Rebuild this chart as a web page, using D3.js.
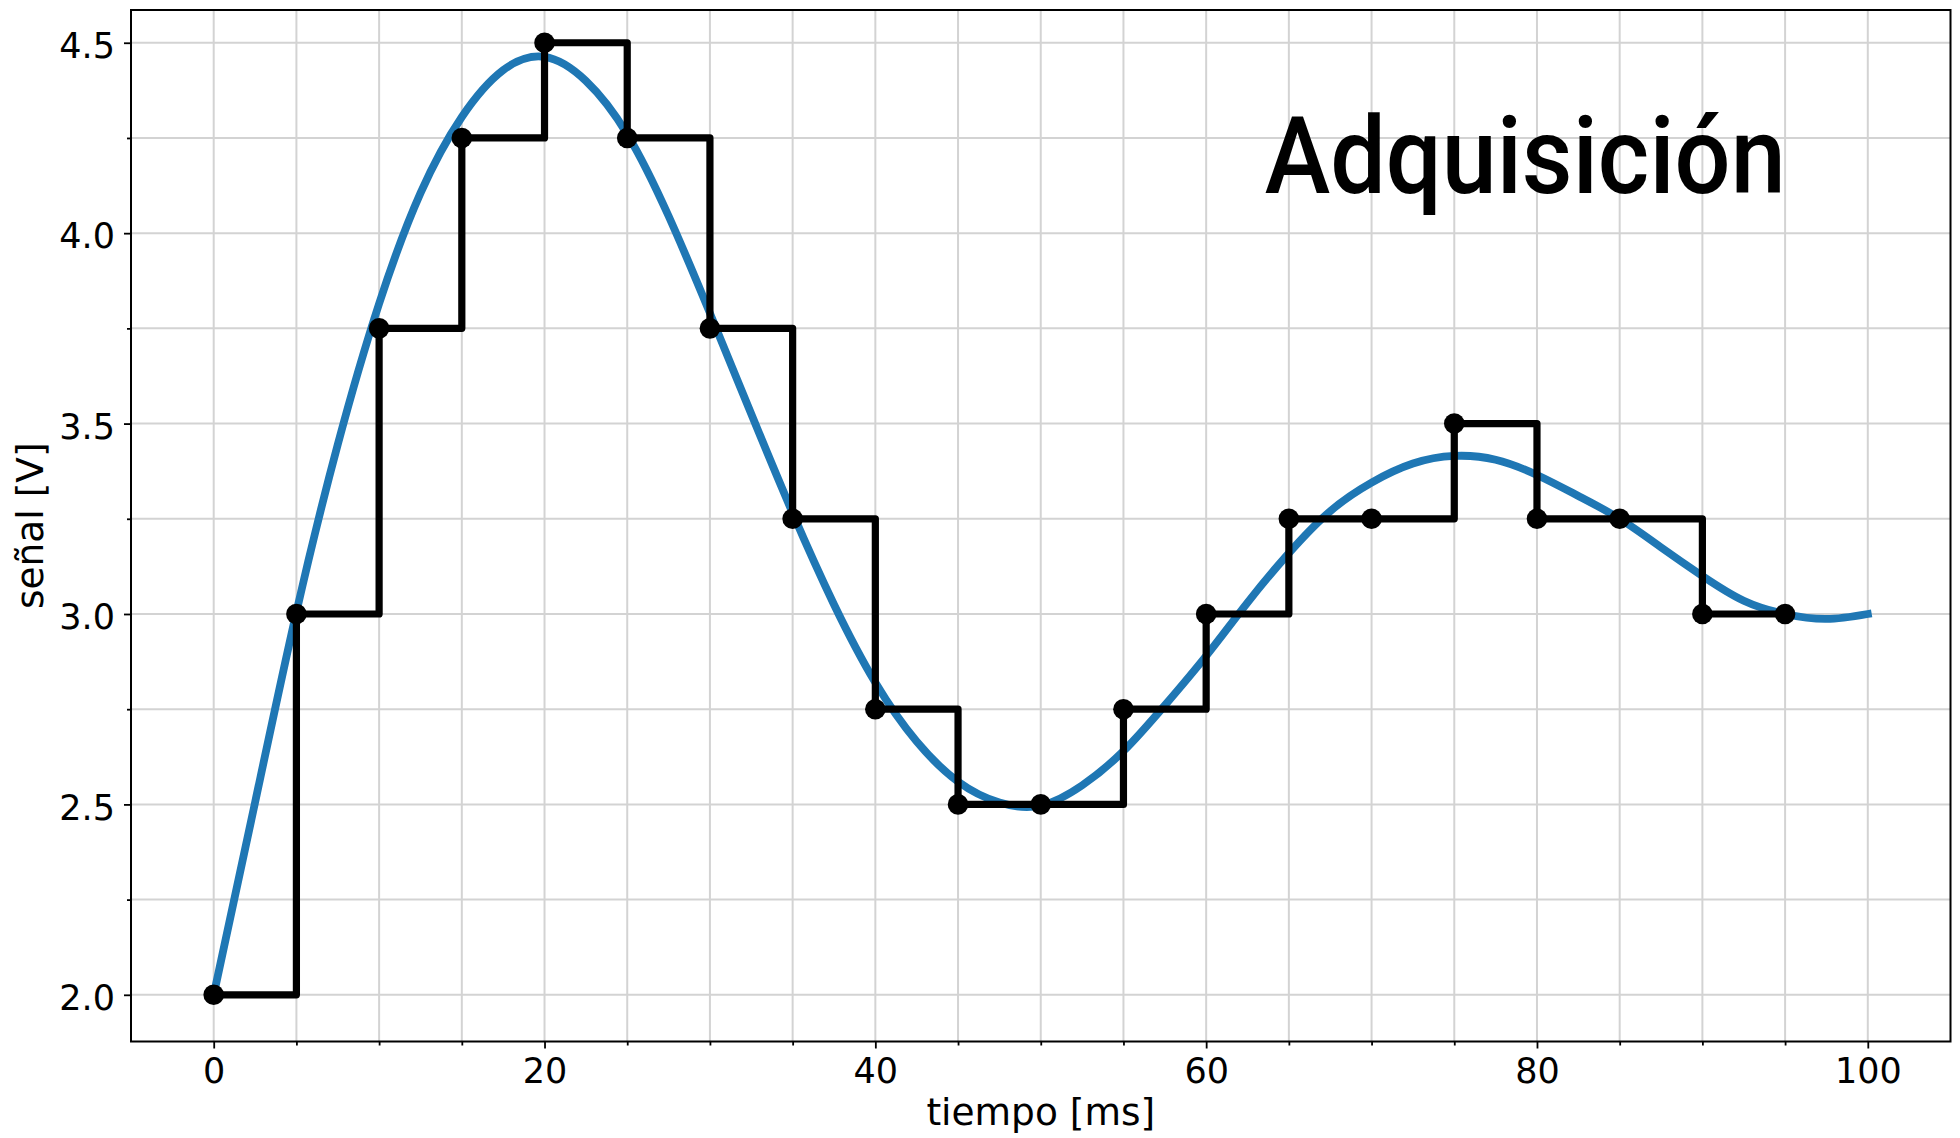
<!DOCTYPE html>
<html><head><meta charset="utf-8">
<script src="https://cdn.jsdelivr.net/npm/d3@7/dist/d3.min.js"></script>
<style>body{margin:0;background:#fff} svg{display:block}</style>
</head><body>
<svg id="chart" width="1960" height="1138"></svg>
<script>
// ---- data ----
const sampleTimes  = [0,5,10,15,20,25,30,35,40,45,50,55,60,65,70,75,80,85,90,95];
const sampleValues = [2.0,3.0,3.75,4.25,4.5,4.25,3.75,3.25,2.75,2.5,2.5,2.75,3.0,3.25,3.25,3.5,3.25,3.25,3.0,3.0];
const signalTimes  = [0,2.5,5,7.5,10,12.5,15,17.5,20,22.5,25,27.5,30,32.5,35,37.5,40,42.5,45,47.5,50,52.5,55,57.5,60,62.5,65,67.5,70,72.5,75,77.5,80,82.5,85,87.5,90,92.5,95,97.5,100];
const signalValues = [2.0,2.505,3.005,3.445,3.815,4.105,4.305,4.428,4.463,4.40,4.26,4.045,3.79,3.525,3.265,3.025,2.82,2.665,2.56,2.505,2.497,2.55,2.64,2.76,2.89,3.03,3.16,3.27,3.345,3.395,3.415,3.405,3.365,3.31,3.25,3.175,3.10,3.035,3.0,2.987,3.0];
const xTickValues = [0,20,40,60,80,100];
const xTickLabels = ["0","20","40","60","80","100"];
const xMinorValues = [5,10,15,25,30,35,45,50,55,65,70,75,85,90,95];
const yTickValues = [2.0,2.5,3.0,3.5,4.0,4.5];
const yTickLabels = ["2.0","2.5","3.0","3.5","4.0","4.5"];
const yMinorValues = [2.25,2.75,3.25,3.75,4.25];
const titleText = "Adquisición";
const xLabel = "tiempo [ms]";
const yLabel = "señal [V]";

// ---- layout ----
const L = 131, R = 1950.5, T = 10, B = 1041.5;
const svg = d3.select("#chart");
const x = d3.scaleLinear().domain([-5,105]).range([L,R]);
const y = d3.scaleLinear().domain([1.8774,4.586]).range([B,T]);
const font = "DejaVu Sans, sans-serif";
const gridColor = "#d3d3d3";

// grid
const gx = svg.append("g");
gx.selectAll("line.gx").data(xTickValues.concat(xMinorValues)).join("line")
  .attr("x1", d=>x(d)).attr("x2", d=>x(d)).attr("y1", T).attr("y2", B)
  .attr("stroke", gridColor).attr("stroke-width", 2);
gx.selectAll("line.gy").data(yTickValues.concat(yMinorValues)).join("line")
  .attr("y1", d=>y(d)).attr("y2", d=>y(d)).attr("x1", L).attr("x2", R)
  .attr("stroke", gridColor).attr("stroke-width", 2);

// axes
const xAxis = svg.append("g").attr("transform", `translate(0,${B})`)
  .call(d3.axisBottom(x).tickValues(xTickValues).tickFormat((d,i)=>xTickLabels[i]).tickSize(7));
const xMinor = svg.append("g").attr("transform", `translate(0,${B})`)
  .call(d3.axisBottom(x).tickValues(xMinorValues).tickFormat("").tickSize(4));
const yAxis = svg.append("g").attr("transform", `translate(${L},0)`)
  .call(d3.axisLeft(y).tickValues(yTickValues).tickFormat((d,i)=>yTickLabels[i]).tickSize(7));
const yMinor = svg.append("g").attr("transform", `translate(${L},0)`)
  .call(d3.axisLeft(y).tickValues(yMinorValues).tickFormat("").tickSize(4));
[xAxis,xMinor,yAxis,yMinor].forEach(g=>{
  g.select(".domain").remove();
  g.selectAll(".tick line").attr("stroke","#000").attr("stroke-width",1.8);
});
xAxis.selectAll(".tick text").attr("y", 1083 - B).attr("dy", 0)
  .attr("font-family", font).attr("font-size", 35).attr("fill","#000");
yAxis.selectAll(".tick text").attr("x", -16).attr("dy", 14.6)
  .attr("font-family", font).attr("font-size", 35).attr("fill","#000");

// signal curve
const pts = signalTimes.map((t,i)=>({t, v: signalValues[i]}));
svg.append("path").datum(pts)
  .attr("d", d3.line().x(d=>x(d.t)).y(d=>y(d.v)).curve(d3.curveNatural))
  .attr("fill","none").attr("stroke","#1f77b4").attr("stroke-width",7.8)
  .attr("stroke-linecap","square").attr("stroke-linejoin","round");

// sampled step line
const spts = sampleTimes.map((t,i)=>({t, v: sampleValues[i]}));
svg.append("path").datum(spts)
  .attr("d", d3.line().x(d=>x(d.t)).y(d=>y(d.v)).curve(d3.curveStepAfter))
  .attr("fill","none").attr("stroke","#000").attr("stroke-width",7.2)
  .attr("stroke-linecap","square").attr("stroke-linejoin","round");
svg.append("g").selectAll("circle").data(spts).join("circle")
  .attr("cx", d=>x(d.t)).attr("cy", d=>y(d.v)).attr("r", 10.3).attr("fill","#000");

// frame
svg.append("rect").attr("x",L).attr("y",T).attr("width",R-L).attr("height",B-T)
  .attr("fill","none").attr("stroke","#000").attr("stroke-width",2);

// labels
svg.append("text").attr("x",(L+R)/2).attr("y",1125).attr("text-anchor","middle")
  .attr("font-family",font).attr("font-size",37.5).attr("fill","#000").text(xLabel);
svg.append("text").attr("transform",`translate(43,${(T+B)/2}) rotate(-90)`).attr("text-anchor","middle")
  .attr("font-family",font).attr("font-size",37.5).attr("fill","#000").text(yLabel);

// title (condensed look via horizontal scaling)
const tg = svg.append("g");
const tt = tg.append("text").attr("x",0).attr("y",0)
  .attr("font-family","Roboto, sans-serif").attr("font-weight",500).attr("font-size",108).attr("fill","#000").text(titleText);
const bb = tt.node().getBBox();
const sx = 521 / bb.width;
tg.attr("transform", `translate(${1264.7 - bb.x*sx},193.3) scale(${sx},1)`);
</script>
</body></html>
